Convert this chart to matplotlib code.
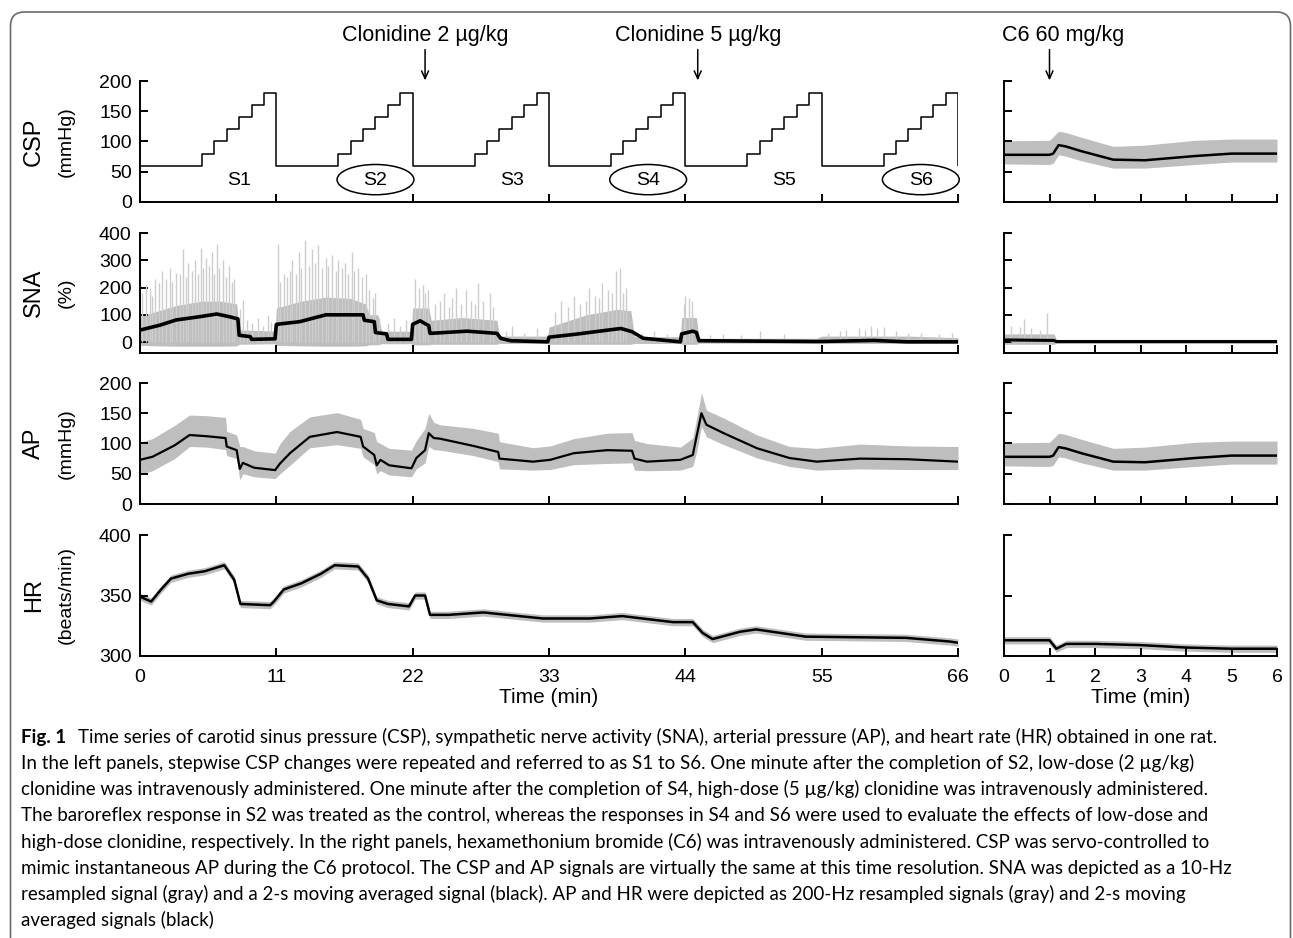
import matplotlib
matplotlib.use("Agg")
import matplotlib.pyplot as plt
import numpy as np
from matplotlib.patches import Ellipse, FancyBboxPatch
from matplotlib.transforms import IdentityTransform

plt.rcParams["font.family"] = ["Liberation Sans", "DejaVu Sans"]

# ── data ─────────────────────────────────────────────────────────────────────
# CSP staircase, repeated six times (minutes from the start of each run)
STEP_LEVELS = [60, 80, 100, 120, 140, 160, 180]
STEP_STARTS = [0, 5, 6, 7, 8, 9, 10]
RUN_STARTS = [0, 11, 22, 33, 44, 55]
RUN_NAMES = ["S1", "S2", "S3", "S4", "S5", "S6"]
CIRCLED = ["S2", "S4", "S6"]

# SNA (%) 2-s average
sna_t = [0, 1.6, 2.9, 4.8, 6.2, 7.3, 7.9, 8.0, 8.9, 9.0, 10.9, 11.0, 12.9, 15.0,
         18.0, 18.1, 18.9, 19.0, 19.9, 20.0, 21.9, 22.0, 22.6, 23.3, 23.4, 26.4,
         28.8, 29.1, 29.9, 32.9, 33.0, 35.0, 38.8, 39.7, 40.6, 43.6, 43.7, 44.6,
         44.9, 45.1, 54.6, 59.2, 61.9, 66.0]
sna_mean = [44, 62, 81, 93, 103, 92, 85, 25, 20, 10, 12, 65, 75, 100,
            100, 80, 75, 35, 30, 10, 10, 65, 78, 60, 32, 40,
            32, 14, 5, 1, 18, 28, 50, 38, 14, 1, 30, 40,
            35, 5, 2, 6, 1, 1]
# SNA 10-Hz signal: dense part of the gray band
sna_band_t = [0, 1.5, 3, 5, 6.5, 7.8, 8.0, 10.9, 11.0, 13, 15, 17, 18.2, 18.5,
              19.2, 19.5, 21.9, 22.0, 23.3, 23.5, 26, 28.8, 29.0, 32.9, 33.0,
              36, 38.5, 39.6, 39.9, 43.6, 43.7, 44.9, 45.1, 54.6, 55, 62, 66]
sna_band_hi = [95, 115, 135, 150, 150, 140, 45, 40, 125, 150, 165, 160, 140,
               100, 100, 40, 40, 125, 125, 80, 90, 80, 22, 22, 55, 100, 120,
               115, 20, 20, 90, 90, 14, 14, 22, 22, 16]
sna_band_lo = [-12, -14, -15, -15, -15, -14, -8, -6, -12, -14, -15, -15, -14,
               -10, -10, -6, -6, -10, -10, -8, -8, -8, -5, -5, -8, -8, -8, -8,
               -5, -5, -8, -8, -4, -4, -5, -5, -4]
# tallest SNA spikes
spike_t = [0.5, 1.2, 1.8, 2.4, 2.9, 3.5, 3.9, 4.4, 4.9, 5.3, 5.8, 6.2, 6.7, 7.2,
           7.6, 8.3, 9.5, 10.3, 11.1, 11.6, 12.3, 12.8, 13.3, 13.9, 14.4, 15.0,
           15.5, 16.0, 16.5, 17.1, 17.6, 18.2, 19.0, 20.5, 21.5, 22.2, 22.8,
           23.2, 24.5, 25.5, 26.3, 27.3, 28.2, 30.0, 32.0, 34.0, 35.0, 36.2,
           37.3, 38.4, 38.7, 39.2, 41.5, 44.0, 44.5, 47.0, 50.0, 57.0, 59.0,
           60.0, 63.0]
spike_h = [210, 230, 260, 270, 255, 340, 290, 300, 345, 310, 330, 360, 300, 280,
           230, 155, 90, 100, 360, 250, 300, 330, 375, 340, 355, 310,
           320, 300, 290, 330, 270, 250, 180, 90, 80, 230, 210,
           190, 180, 200, 190, 215, 180, 60, 50, 150, 170, 200,
           215, 260, 270, 200, 40, 170, 150, 30, 40, 45, 60,
           55, 35]
# medium SNA spikes in between
mid_t = [0.2, 0.8, 1.0, 1.5, 2.1, 2.6, 3.2, 3.7, 4.2, 4.7, 5.1, 5.6, 6.0, 6.4,
         6.9, 7.4, 8.1, 8.6, 9.0, 9.9, 10.6, 11.3, 11.9, 12.1, 12.6, 13.0, 13.6,
         14.1, 14.7, 15.2, 15.8, 16.3, 16.8, 17.3, 17.9, 18.5, 18.8, 19.3, 20.0,
         21.0, 22.5, 23.0, 23.8, 24.2, 24.9, 25.2, 25.9, 26.7, 27.0, 27.7, 28.5,
         29.5, 31.0, 33.5, 34.5, 35.5, 36.0, 36.7, 37.0, 37.8, 38.1, 39.0, 40.5,
         42.5, 43.9, 44.3, 46.0, 48.5, 52.0, 55.5, 56.5, 58.0, 58.5, 59.5, 61.0,
         62.0, 64.5, 65.5]
mid_h = [180, 200, 170, 215, 230, 220, 250, 240, 260, 250, 270, 280, 250, 270,
         240, 220, 120, 80, 70, 60, 75, 220, 240, 260, 250, 270, 280,
         290, 270, 280, 260, 270, 250, 260, 240, 190, 160, 90, 70,
         60, 200, 180, 140, 150, 130, 160, 140, 150, 140, 150, 130,
         40, 35, 110, 130, 140, 150, 170, 160, 190, 180, 180, 35,
         30, 140, 160, 25, 25, 30, 35, 40, 50, 45, 50, 40,
         35, 30, 35]

# AP (mmHg): 2-s average and the range of the 200-Hz signal
ap_t = [0.0, 1.0, 2.8, 4.0, 5.4, 6.9, 7.0, 7.8, 8.05, 8.3, 9.2, 10.9, 11.3, 12.1,
        13.7, 15.9, 17.8, 18.0, 18.9, 19.1, 19.4, 20.1, 21.9, 22.3, 23.0, 23.3,
        23.7, 24.2, 26.9, 28.9, 29.0, 31.7, 33.1, 35.0, 37.7, 39.7, 39.9, 40.9,
        43.6, 44.6, 44.9, 45.3, 45.7, 47.1, 49.8, 52.4, 54.6, 58.1, 61.9, 66.0]
ap_mean = [73, 78, 97, 114, 112, 109, 95, 89, 58, 68, 60, 56, 67, 84,
           111, 119, 111, 95, 81, 64, 73, 64, 59, 76, 89, 117,
           109, 108, 96, 86, 75, 70, 73, 84, 89, 88, 75, 70,
           73, 81, 111, 150, 131, 117, 92, 76, 70, 75, 74, 70]
ap_lo = [48, 55, 75, 95, 94, 90, 80, 75, 40, 50, 45, 42, 50, 64,
         93, 98, 92, 78, 65, 50, 55, 48, 45, 58, 68, 95,
         90, 89, 80, 70, 58, 56, 57, 65, 67, 68, 56, 55,
         56, 62, 85, 128, 111, 98, 76, 62, 56, 58, 57, 57]
ap_hi = [102, 108, 130, 147, 146, 143, 120, 114, 95, 95, 88, 84, 100, 120,
         144, 151, 140, 125, 118, 103, 100, 92, 89, 105, 125, 150,
         135, 131, 125, 117, 103, 93, 96, 108, 117, 118, 105, 100,
         94, 109, 140, 184, 155, 142, 114, 95, 92, 99, 96, 95]

# HR (beats/min)
hr_t = [0, 0.9, 1.7, 2.5, 3.9, 5.2, 6.8, 7.6, 8.1, 10.5, 10.8, 11.6, 13.0, 14.6,
        15.7, 17.6, 18.4, 19.1, 20.0, 21.7, 22.2, 23.0, 23.4, 24.9, 27.7, 32.5,
        36.3, 38.9, 43.0, 44.6, 45.4, 46.2, 48.4, 49.7, 53.7, 61.8, 65.3, 66.0]
hr_mean = [349, 345, 355, 364, 368, 370, 375, 363, 343, 342, 345, 355, 360, 368,
           375, 374, 364, 346, 343, 341, 350, 350, 334, 334, 336, 331,
           331, 333, 328, 328, 319, 314, 320, 322, 316, 315, 312, 311]
HR_SPREAD = 3

# C6 protocol (right panels); CSP follows AP
c6_t = [0.0, 1.0, 1.08, 1.2, 1.35, 1.7, 2.4, 3.1, 4.2, 5.0, 6.0]
c6_mean = [78, 78, 80, 94, 92, 84, 70, 69, 76, 80, 80]
c6_lo = [63, 62, 64, 78, 76, 68, 56, 56, 62, 66, 66]
c6_hi = [101, 102, 108, 117, 115, 107, 92, 94, 102, 104, 104]

c6_sna_t = [0, 1.1, 1.15, 6]
c6_sna_mean = [8, 6, 2, 2]
c6_sna_hi = [30, 30, 10, 10]
c6_sna_lo = [-8, -8, -5, -5]
c6_spike_t = [0.15, 0.35, 0.45, 0.6, 0.8, 0.95]
c6_spike_h = [60, 55, 85, 50, 45, 105]

c6_hr_t = [0, 1.0, 1.15, 1.37, 2.0, 3.0, 4.0, 5.0, 6.0]
c6_hr_mean = [313, 313, 306, 310, 310, 309, 307, 306, 306]

GRAY = "#bebebe"
LIGHT = "#cdcdcd"
W, H = 1293, 938


def px_box(x0, top, x1, bottom):
    return [x0 / W, 1 - bottom / H, (x1 - x0) / W, (bottom - top) / H]


def style(ax, ylim, yticks, xlim, xticks, ylab=True, xlab=False):
    for s in ("top", "right"):
        ax.spines[s].set_visible(False)
    for s in ("left", "bottom"):
        ax.spines[s].set_linewidth(1.4)
    ax.set_xlim(xlim)
    ax.set_ylim(ylim)
    ax.set_xticks(xticks)
    ax.set_yticks(yticks)
    ax.tick_params(direction="in", length=6, width=1.4, labelsize=14,
                   pad=6, colors="black")
    ax.tick_params(axis="x", pad=9)
    if not ylab:
        ax.set_yticklabels([])
    if not xlab:
        ax.set_xticklabels([])


fig = plt.figure(figsize=(W / 100, H / 100), dpi=100)

rows = [(81, 202), (233, 353), (383, 504), (535, 656)]
left = [fig.add_axes(px_box(140, t, 958, b)) for t, b in rows]
right = [fig.add_axes(px_box(1004, t, 1277, b)) for t, b in rows]

lt = [0, 11, 22, 33, 44, 55, 66]
rt = [0, 1, 2, 3, 4, 5, 6]

# CSP staircase
csp_t, csp_v = [], []
for r in RUN_STARTS:
    for s, v in zip(STEP_STARTS, STEP_LEVELS):
        csp_t.append(r + s)
        csp_v.append(v)
csp_t.append(66)
csp_v.append(STEP_LEVELS[-1])
ax = left[0]
ax.step(csp_t, csp_v, where="post", color="black", lw=1.1)
ax.vlines(66, STEP_LEVELS[0], STEP_LEVELS[-1], color="black", lw=1.1)
for r, name in zip(RUN_STARTS, RUN_NAMES):
    ax.text(r + 8.0, 36, name, ha="center", va="center", fontsize=14)
    if name in CIRCLED:
        ax.add_patch(Ellipse((r + 8.0, 37), 6.2, 50, fill=False,
                             lw=1.1, color="black", clip_on=False))
style(ax, (0, 200), [0, 50, 100, 150, 200], (0, 66), lt)

# SNA
ax = left[1]
ax.fill_between(sna_band_t, sna_band_lo, sna_band_hi, color=GRAY, lw=0)
ax.vlines(mid_t, 0, mid_h, color=LIGHT, lw=1.0)
ax.vlines(spike_t, 0, spike_h, color=LIGHT, lw=1.0)
ax.plot(sna_t, sna_mean, color="black", lw=2.6)
style(ax, (-40, 400), [0, 100, 200, 300, 400], (0, 66), lt)

# AP
ax = left[2]
ax.fill_between(ap_t, ap_lo, ap_hi, color=GRAY, lw=0)
ax.plot(ap_t, ap_mean, color="black", lw=1.6)
style(ax, (0, 200), [0, 50, 100, 150, 200], (0, 66), lt)

# HR
ax = left[3]
hm = np.array(hr_mean)
ax.fill_between(hr_t, hm - HR_SPREAD, hm + HR_SPREAD, color=GRAY, lw=0)
ax.plot(hr_t, hr_mean, color="black", lw=1.8)
style(ax, (300, 400), [300, 350, 400], (0, 66), lt, xlab=True)
ax.set_xlabel("Time (min)", fontsize=15, labelpad=2)

# right panels: C6
for ax in (right[0], right[2]):
    ax.fill_between(c6_t, c6_lo, c6_hi, color=GRAY, lw=0)
    ax.plot(c6_t, c6_mean, color="black", lw=1.8)
    style(ax, (0, 200), [0, 50, 100, 150, 200], (0, 6), rt, ylab=False)

ax = right[1]
ax.fill_between(c6_sna_t, c6_sna_lo, c6_sna_hi, color=GRAY, lw=0)
ax.vlines(c6_spike_t, 0, c6_spike_h, color=LIGHT, lw=1.0)
ax.plot(c6_sna_t, c6_sna_mean, color="black", lw=2.2)
style(ax, (-40, 400), [0, 100, 200, 300, 400], (0, 6), rt, ylab=False)

ax = right[3]
cm = np.array(c6_hr_mean)
ax.fill_between(c6_hr_t, cm - HR_SPREAD, cm + HR_SPREAD, color=GRAY, lw=0)
ax.plot(c6_hr_t, c6_hr_mean, color="black", lw=1.8)
style(ax, (300, 400), [300, 350, 400], (0, 6), rt, ylab=False, xlab=True)
ax.set_xlabel("Time (min)", fontsize=15, labelpad=2)

# y labels (two lines each)
names = [("CSP", "(mmHg)"), ("SNA", "(%)"), ("AP", "(mmHg)"), ("HR", "(beats/min)")]
for (t, b), (big, unit) in zip(rows, names):
    yc = 1 - (t + b) / 2 / H
    fig.text(34 / W, yc, big, rotation=90, ha="center", va="center", fontsize=17)
    fig.text(66 / W, yc, unit, rotation=90, ha="center", va="center", fontsize=14)

# drug injections
for ax, tx, label, dx in [(left[0], 23, "Clonidine 2 µg/kg", 0),
                          (left[0], 45, "Clonidine 5 µg/kg", 0),
                          (right[0], 1, "C6 60 mg/kg", 0.3)]:
    ax.annotate("", xy=(tx, 201), xytext=(tx, 252), annotation_clip=False,
                arrowprops=dict(arrowstyle="->,head_length=0.55,head_width=0.25",
                                color="black", lw=1.1, shrinkA=0, shrinkB=0))
    ax.text(tx + dx, 276, label, ha="center", va="center", fontsize=15.5,
            clip_on=False)

# rounded frame
frame = FancyBboxPatch((10.5, -30), 1280, 956, boxstyle="round,pad=0,rounding_size=14",
                       transform=IdentityTransform(), fill=False,
                       edgecolor="#6a6a6a", lw=1.2)
fig.add_artist(frame)

# caption
caption = [
    "Time series of carotid sinus pressure (CSP), sympathetic nerve activity (SNA), arterial pressure (AP), and heart rate (HR) obtained in one rat.",
    "In the left panels, stepwise CSP changes were repeated and referred to as S1 to S6. One minute after the completion of S2, low-dose (2 µg/kg)",
    "clonidine was intravenously administered. One minute after the completion of S4, high-dose (5 µg/kg) clonidine was intravenously administered.",
    "The baroreflex response in S2 was treated as the control, whereas the responses in S4 and S6 were used to evaluate the effects of low-dose and",
    "high-dose clonidine, respectively. In the right panels, hexamethonium bromide (C6) was intravenously administered. CSP was servo-controlled to",
    "mimic instantaneous AP during the C6 protocol. The CSP and AP signals are virtually the same at this time resolution. SNA was depicted as a 10-Hz",
    "resampled signal (gray) and a 2-s moving averaged signal (black). AP and HR were depicted as 200-Hz resampled signals (gray) and 2-s moving",
    "averaged signals (black)",
]
cap_font = ["Lato", "DejaVu Sans"]
renderer = fig.canvas.get_renderer()
fig_lbl = fig.text(21 / W, 1 - 737 / H, "Fig. 1", fontsize=13.5, fontweight="bold",
                   family=cap_font, va="center", ha="left")
lbl_w = fig_lbl.get_window_extent(renderer).width
for i, line in enumerate(caption):
    x = (21 + lbl_w + 12) / W if i == 0 else 21 / W
    fig.text(x, 1 - (737 + 26.2 * i) / H, line, fontsize=13.5, family=cap_font,
             va="center", ha="left")

fig.savefig("out.png", dpi=100)
